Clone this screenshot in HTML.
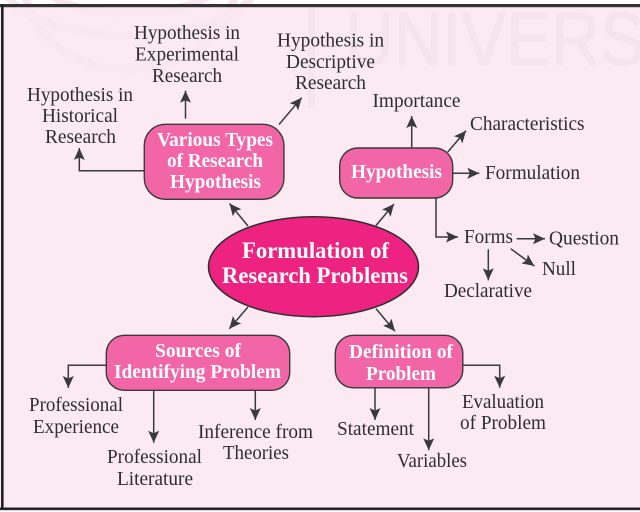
<!DOCTYPE html>
<html>
<head>
<meta charset="utf-8">
<style>
html,body{margin:0;padding:0;background:#fff;}
svg{display:block;}
text{font-family:"Liberation Serif",serif;}
.t{font-size:20.5px;fill:#2e2e2e;text-anchor:start;}
.b{font-size:20.5px;font-weight:bold;fill:#fff;text-anchor:start;}
.e{font-size:23px;font-weight:bold;fill:#fff;text-anchor:start;}
.l{fill:none;stroke:#3a3a3a;stroke-width:1.5;marker-end:url(#a);}
.n{fill:#f266a8;stroke:#3a3a3a;stroke-width:1.4;}
</style>
</head>
<body>
<svg width="640" height="512" viewBox="0 0 640 512" xmlns="http://www.w3.org/2000/svg">
<defs>
<marker id="a" markerUnits="userSpaceOnUse" markerWidth="16" markerHeight="14" refX="12" refY="5.5" orient="auto">
<path d="M0 0 L12 5.5 L0 11 L2.5 5.5 Z" fill="#3a3a3a"/>
</marker>
</defs>
<rect width="640" height="512" fill="#ffffff"/>
<rect x="0" y="4" width="640" height="507" fill="#fbeaf1"/>
<!-- watermark -->
<g fill="none" stroke="#f8e7ee" stroke-width="8">
<ellipse cx="130" cy="-15" rx="125" ry="50"/>
<ellipse cx="130" cy="-15" rx="105" ry="85"/>
<ellipse cx="130" cy="-15" rx="85" ry="28"/>
</g>
<rect x="308" y="8" width="7" height="100" fill="#f6e5ec"/>
<text x="345" y="65" font-size="75" textLength="300" lengthAdjust="spacingAndGlyphs" style="font-family:'Liberation Sans',sans-serif" fill="#f5e4eb" stroke="#f5e4eb" stroke-width="1">UNIVERS</text>
<!-- frame -->
<rect x="0" y="4" width="640" height="3.2" fill="#333"/>
<rect x="1" y="4" width="2.6" height="506" fill="#222"/>
<rect x="0" y="507.5" width="640" height="2.6" fill="#222"/>

<!-- connectors -->
<path class="l" d="M144 170.7H79.3V148"/>
<path class="l" d="M185.5 118.7V90.7"/>
<path class="l" d="M279 124.5L301.7 97.7"/>
<path class="l" d="M248 226L229.5 203.5"/>
<path class="l" d="M376 225.5L394 204"/>
<path class="l" d="M411.7 148V116"/>
<path class="l" d="M447.7 152L466 130.7"/>
<path class="l" d="M453 173.3H479.3"/>
<path class="l" d="M436 198V237H458"/>
<path class="l" d="M516.7 238.7H545"/>
<path class="l" d="M488.3 249.3V280.3"/>
<path class="l" d="M510.7 248.7L534.3 266"/>
<path class="l" d="M248 307L229.3 328.7"/>
<path class="l" d="M376 308.7L395 331.3"/>
<path class="l" d="M106 365.3H68.3V388"/>
<path class="l" d="M153.7 390V442.7"/>
<path class="l" d="M255.3 390.5V420"/>
<path class="l" d="M375 388V420"/>
<path class="l" d="M428.7 388V450.3"/>
<path class="l" d="M463 365.3H499.7V387.7"/>

<!-- nodes -->
<ellipse cx="313.5" cy="266.7" rx="105" ry="50" fill="#ee2280" stroke="#2e2e2e" stroke-width="1.5"/>
<rect class="n" x="144.3" y="124.3" width="139.6" height="75" rx="21"/>
<rect class="n" x="339.7" y="148" width="113" height="50" rx="18"/>
<rect class="n" x="106.3" y="335.3" width="183.4" height="55" rx="18"/>
<rect class="n" x="335.3" y="335.3" width="127.5" height="52.5" rx="18"/>

<!-- node labels -->
<text class="e" x="242" y="258" textLength="147" lengthAdjust="spacingAndGlyphs">Formulation of</text>
<text class="e" x="222" y="283" textLength="186" lengthAdjust="spacingAndGlyphs">Research Problems</text>
<text class="b" x="157" y="146" textLength="116" lengthAdjust="spacingAndGlyphs">Various Types</text>
<text class="b" x="167" y="167" textLength="96" lengthAdjust="spacingAndGlyphs">of Research</text>
<text class="b" x="170" y="188" textLength="91" lengthAdjust="spacingAndGlyphs">Hypothesis</text>
<text class="b" x="351" y="178" textLength="91" lengthAdjust="spacingAndGlyphs">Hypothesis</text>
<text class="b" x="155" y="357" textLength="86" lengthAdjust="spacingAndGlyphs">Sources of</text>
<text class="b" x="114" y="378" textLength="167" lengthAdjust="spacingAndGlyphs">Identifying Problem</text>
<text class="b" x="349" y="358" textLength="104" lengthAdjust="spacingAndGlyphs">Definition of</text>
<text class="b" x="366" y="380" textLength="70" lengthAdjust="spacingAndGlyphs">Problem</text>

<!-- leaf labels -->
<text class="t" x="27" y="101" textLength="106" lengthAdjust="spacingAndGlyphs">Hypothesis in</text>
<text class="t" x="42" y="122" textLength="76" lengthAdjust="spacingAndGlyphs">Historical</text>
<text class="t" x="45" y="143" textLength="71" lengthAdjust="spacingAndGlyphs">Research</text>
<text class="t" x="134" y="39" textLength="106" lengthAdjust="spacingAndGlyphs">Hypothesis in</text>
<text class="t" x="135" y="60.5" textLength="104" lengthAdjust="spacingAndGlyphs">Experimental</text>
<text class="t" x="152" y="82" textLength="70" lengthAdjust="spacingAndGlyphs">Research</text>
<text class="t" x="277" y="46.5" textLength="107" lengthAdjust="spacingAndGlyphs">Hypothesis in</text>
<text class="t" x="286" y="68" textLength="89" lengthAdjust="spacingAndGlyphs">Descriptive</text>
<text class="t" x="295" y="89" textLength="71" lengthAdjust="spacingAndGlyphs">Research</text>
<text class="t" x="372.5" y="107" textLength="88" lengthAdjust="spacingAndGlyphs">Importance</text>
<text class="t" x="470" y="130" textLength="114.5" lengthAdjust="spacingAndGlyphs">Characteristics</text>
<text class="t" x="485" y="179" textLength="95" lengthAdjust="spacingAndGlyphs">Formulation</text>
<text class="t" x="464" y="243" textLength="49" lengthAdjust="spacingAndGlyphs">Forms</text>
<text class="t" x="549" y="244.5" textLength="70" lengthAdjust="spacingAndGlyphs">Question</text>
<text class="t" x="542" y="275" textLength="34" lengthAdjust="spacingAndGlyphs">Null</text>
<text class="t" x="444" y="297" textLength="88" lengthAdjust="spacingAndGlyphs">Declarative</text>
<text class="t" x="462" y="408" textLength="82" lengthAdjust="spacingAndGlyphs">Evaluation</text>
<text class="t" x="460" y="429" textLength="86" lengthAdjust="spacingAndGlyphs">of Problem</text>
<text class="t" x="337" y="435" textLength="77" lengthAdjust="spacingAndGlyphs">Statement</text>
<text class="t" x="397" y="467" textLength="70" lengthAdjust="spacingAndGlyphs">Variables</text>
<text class="t" x="29" y="411" textLength="94" lengthAdjust="spacingAndGlyphs">Professional</text>
<text class="t" x="33" y="433" textLength="86" lengthAdjust="spacingAndGlyphs">Experience</text>
<text class="t" x="107" y="463" textLength="95" lengthAdjust="spacingAndGlyphs">Professional</text>
<text class="t" x="117" y="485" textLength="76" lengthAdjust="spacingAndGlyphs">Literature</text>
<text class="t" x="198" y="438" textLength="115" lengthAdjust="spacingAndGlyphs">Inference from</text>
<text class="t" x="223" y="459" textLength="66" lengthAdjust="spacingAndGlyphs">Theories</text>
</svg>
</body>
</html>
